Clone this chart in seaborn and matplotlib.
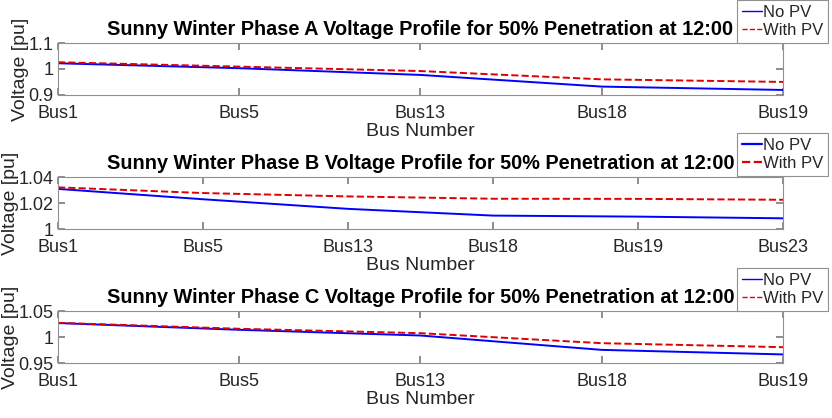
import matplotlib
matplotlib.use("Agg")
import matplotlib.pyplot as plt
import seaborn as sns
import pandas as pd
from matplotlib.ticker import FuncFormatter

# phase A
buses_a = ["Bus1", "Bus5", "Bus13", "Bus18", "Bus19"]
nopv_a = [1.022, 1.003, 0.977, 0.932, 0.919]
withpv_a = [1.026, 1.009, 0.992, 0.960, 0.950]

# phase B
buses_b = ["Bus1", "Bus5", "Bus13", "Bus18", "Bus19", "Bus23"]
nopv_b = [1.031, 1.023, 1.0156, 1.0104, 1.0096, 1.0083]
withpv_b = [1.0322, 1.0278, 1.0252, 1.0234, 1.0233, 1.0226]

# phase C
buses_c = ["Bus1", "Bus5", "Bus13", "Bus18", "Bus19"]
nopv_c = [1.0275, 1.0145, 1.0035, 0.9758, 0.967]
withpv_c = [1.028, 1.0165, 1.008, 0.9887, 0.981]

yticks_a = [0.9, 1.0, 1.1]
yticks_b = [1.0, 1.02, 1.04]
yticks_c = [0.95, 1.0, 1.05]

sns.set_theme(style="white")
plt.rcParams["font.family"] = ["Liberation Sans", "DejaVu Sans"]

fig = plt.figure(figsize=(8.32, 4.18), dpi=100)

panels = [
    ("A", buses_a, nopv_a, withpv_a, yticks_a, 0.773, 1.0, 1.0),
    ("B", buses_b, nopv_b, withpv_b, yticks_b, 0.452, 0.682, 1.6),
    ("C", buses_c, nopv_c, withpv_c, yticks_c, 0.131, 0.359, 1.0),
]

for phase, buses, nopv, withpv, yt, bottom, leg_top, leg_lw in panels:
    ax = fig.add_axes([0.0697, bottom, 0.8714, 0.124])
    df = pd.DataFrame({"Bus": buses, "No PV": nopv, "With PV": withpv})
    sns.lineplot(data=df, x="Bus", y="No PV", ax=ax, color="#0000ff", lw=1.4, sort=False)
    sns.lineplot(data=df, x="Bus", y="With PV", ax=ax, color="#e00000", lw=1.4,
                 linestyle="--", sort=False)
    ax.set_xlim(0, len(buses) - 1)
    ax.set_ylim(yt[0], yt[-1])
    ax.set_yticks(yt)
    ax.yaxis.set_major_formatter(FuncFormatter(lambda v, p: "%g" % round(v, 4)))
    ax.tick_params(direction="in", length=5, color="#808080", labelsize=13,
                   labelcolor="#262626", top=True, right=True, bottom=True, left=True,
                   labeltop=False, labelright=False)
    ax.tick_params(axis="x", pad=7)
    ax.tick_params(axis="y", pad=3)
    for s in ax.spines.values():
        s.set_color("#909090")
        s.set_linewidth(0.8)
    ax.set_xlabel("Bus Number", fontsize=14, color="#262626", labelpad=1)
    ax.set_ylabel("Voltage [pu]", fontsize=14, color="#262626", labelpad=0)
    ax.set_title("Sunny Winter Phase %s Voltage Profile for 50%% Penetration at 12:00" % phase,
                 fontsize=14.3, fontweight="bold", color="black", pad=6)
    h1, = ax.plot([], [], color="#0000ff", lw=leg_lw)
    h2, = ax.plot([], [], color="#e00000", lw=leg_lw, ls="--")
    leg = ax.legend([h1, h2], ["No PV", "With PV"], loc="upper right",
                    bbox_to_anchor=(828 / 832, leg_top), bbox_transform=fig.transFigure,
                    fontsize=12, fancybox=False, framealpha=1, edgecolor="#909090",
                    handlelength=1.2, handletextpad=0.05, borderpad=0.3,
                    labelspacing=0.2, borderaxespad=0)
    leg.get_frame().set_linewidth(0.8)

fig.savefig("out.png", dpi=100)
